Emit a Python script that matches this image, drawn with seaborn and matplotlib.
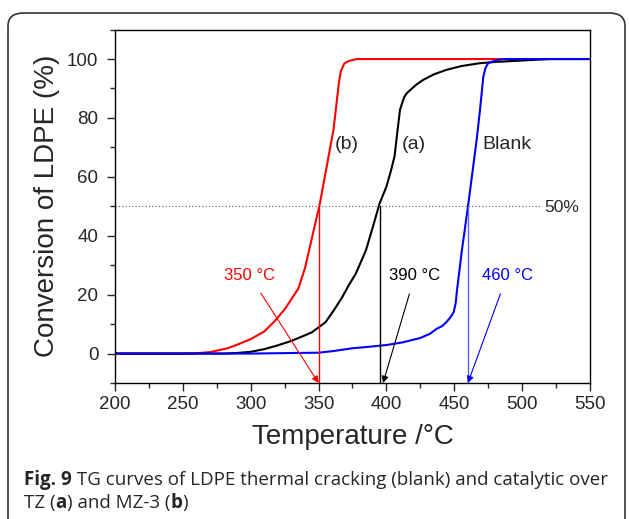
import numpy as np
import pandas as pd
import matplotlib
matplotlib.use("Agg")
import matplotlib.pyplot as plt
import seaborn as sns
from matplotlib.patches import FancyBboxPatch
from matplotlib.ticker import MultipleLocator

# TG curves
temp_b = [200, 250, 260, 270, 283, 290, 300, 310, 318, 325, 335, 340, 343, 347, 351, 355, 358, 361, 363, 365, 366.5,
          369, 372, 378, 550]
conv_b = [0, 0, 0.1, 0.5, 1.8, 3, 4.9, 7.5, 11.2, 15, 22, 29, 35, 43, 51, 61, 68.5, 76, 84, 92, 96,
          98.5, 99.3, 100, 100]

temp_a = [200, 280, 290, 300, 310, 320, 330, 340, 345, 355, 361, 367.5, 372, 377.5, 385, 390, 395, 400, 403, 406, 408,
          410, 413, 415, 422, 427, 435, 444, 455, 469, 480, 500, 520, 550]
conv_a = [0, 0, 0.2, 0.6, 1.5, 2.8, 4.3, 6.2, 7.2, 10.6, 14.5, 19.2, 23, 27.2, 35.2, 43, 51, 56.7, 61.5, 67, 75,
          82.8, 87, 88.4, 91.3, 92.9, 94.8, 96.3, 97.6, 98.6, 99, 99.5, 100, 100]

temp_blank = [200, 300, 350, 360, 375, 387, 400, 412, 425, 432, 437, 441, 444, 447, 449.5, 451, 452, 454, 455.6,
              458, 460.4, 463.5, 466.5, 469, 471.4, 473, 475, 480, 486, 550]
conv_blank = [0, 0, 0.3, 0.8, 1.8, 2.3, 2.9, 3.8, 5.3, 6.7, 8.4, 9.3, 10.6, 12.2, 14, 17, 21.5, 29, 35,
              43, 51, 62, 72.6, 83, 94, 97, 98.6, 99.5, 100, 100]

t50 = [350, 395, 460]
t50_labels = ["350 \u00b0C", "390 \u00b0C", "460 \u00b0C"]
label_x = [299, 421, 489]

df = pd.concat([
    pd.DataFrame({"T": temp_b, "conv": conv_b, "run": "b"}),
    pd.DataFrame({"T": temp_a, "conv": conv_a, "run": "a"}),
    pd.DataFrame({"T": temp_blank, "conv": conv_blank, "run": "blank"}),
])

sns.set_style("ticks")
plt.rcParams["font.family"] = ["Liberation Sans", "DejaVu Sans"]

fig = plt.figure(figsize=(6.29, 5.19), dpi=100)
ax = fig.add_axes([0.1828, 0.262, 0.938 - 0.1828, 0.943 - 0.262])

sns.lineplot(data=df, x="T", y="conv", hue="run", palette={"b": "#ff0000", "a": "black", "blank": "#0000ff"},
             sort=False, legend=False, lw=1.5, ax=ax)

ax.set_xlim(200, 550)
ax.set_ylim(-10, 110)

# 50 % line and the marker verticals
ax.plot([200, 515], [50, 50], ls=(0, (1, 2)), color="#555555", lw=0.8)
ax.text(516, 49.6, "50%", fontsize=12.5, va="center", ha="left")
vcols = ["#ff0000", "black", "#6060ff"]
for t, c in zip(t50, vcols):
    ax.plot([t, t], [50, -10], color=c, lw=1)

for lab, lx, t, c in zip(t50_labels, label_x, t50, ["#ff0000", "black", "#0000ff"]):
    ax.annotate(lab, xy=(t + (2.5 if c == "black" else 0), -10), xytext=(lx, 26.6), color=c, fontsize=12,
                ha="center", va="center",
                arrowprops=dict(arrowstyle="-|>", color=c, lw=0.8, shrinkA=6, shrinkB=0, mutation_scale=10))

ax.text(371, 71, "(b)", fontsize=14, ha="center", va="center")
ax.text(420, 71, "(a)", fontsize=14, ha="center", va="center")
ax.text(489, 71, "Blank", fontsize=14, ha="center", va="center")

ax.xaxis.set_major_locator(MultipleLocator(50))
ax.xaxis.set_minor_locator(MultipleLocator(25))
ax.yaxis.set_major_locator(MultipleLocator(20))
ax.yaxis.set_minor_locator(MultipleLocator(10))
ax.set_yticks([0, 20, 40, 60, 80, 100])
ax.tick_params(which="major", direction="out", length=6, width=1, labelsize=13.5)
ax.tick_params(axis="y", which="major", pad=6)
ax.tick_params(which="minor", direction="out", length=3.5, width=1)
for s in ax.spines.values():
    s.set_linewidth(1)
    s.set_color("black")

ax.set_xlabel("Temperature /\u00b0C", fontsize=20, labelpad=8)
ax.set_ylabel("Conversion of LDPE (%)", fontsize=20, labelpad=5)

# outer rounded frame
frame = FancyBboxPatch((8 / 629, -0.05), 617 / 629, 1 - 13 / 519 + 0.05, transform=fig.transFigure,
                       boxstyle="round,pad=0,rounding_size=0.025", fc="none", ec="#333333", lw=1.2)
fig.patches.append(frame)

# caption with bold fragments
renderer = fig.canvas.get_renderer()


def write_line(pieces, x0, y0):
    x = x0
    for txt, wt in pieces:
        t = fig.text(x, y0, txt, fontsize=13.5, fontweight=wt, family=["Open Sans", "DejaVu Sans"],
                     va="baseline", ha="left")
        bb = t.get_window_extent(renderer)
        x += bb.width / fig.bbox.width


write_line([("Fig. 9", "bold"), (" TG curves of LDPE thermal cracking (blank) and catalytic over", "normal")],
           24 / 629, 1 - 485 / 519)
write_line([("TZ (", "normal"), ("a", "bold"), (") and MZ-3 (", "normal"), ("b", "bold"), (")", "normal")],
           24 / 629, 1 - 508 / 519)

fig.savefig("out.png", dpi=100)
